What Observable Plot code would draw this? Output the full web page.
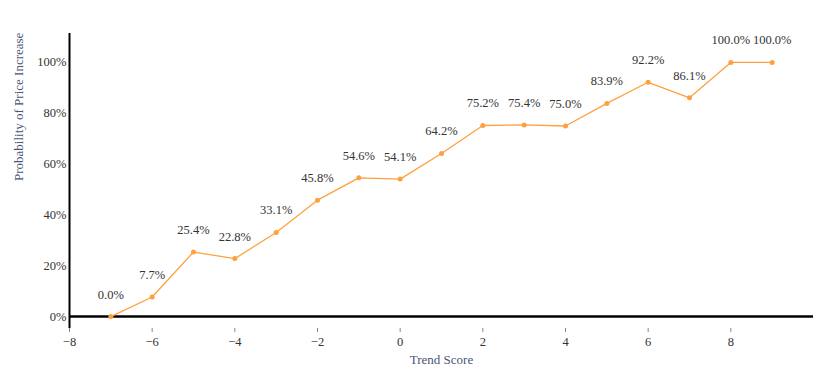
<!DOCTYPE html>
<html>
<head>
<meta charset="utf-8">
<script src="https://cdn.jsdelivr.net/npm/d3@7"></script>
<script src="https://cdn.jsdelivr.net/npm/@observablehq/plot@0.6"></script>
<style>
  html, body { margin: 0; padding: 0; background: #fff; }
  #chart svg { display: block; }
  #chart svg, #chart svg text { font-family: 'Liberation Serif', 'Times New Roman', serif !important; }
</style>
</head>
<body>
<div id="chart"></div>
<script>
const trendScores = [-7, -6, -5, -4, -3, -2, -1, 0, 1, 2, 3, 4, 5, 6, 7, 8, 9];
const probabilities = [0.0, 7.7, 25.4, 22.8, 33.1, 45.8, 54.6, 54.1, 64.2, 75.2, 75.4, 75.0, 83.9, 92.2, 86.1, 100.0, 100.0];
const xTicks = [-8, -6, -4, -2, 0, 2, 4, 6, 8];
const yTicks = [0, 0.2, 0.4, 0.6, 0.8, 1.0];

const data = trendScores.map((x, i) => ({x, p: probabilities[i] / 100}));
const lineColor = "#ffa040";
const font = "'Liberation Serif', 'Times New Roman', serif";

const chart = Plot.plot({
  width: 818,
  height: 377,
  marginLeft: 69,
  marginRight: 5,
  marginTop: 33,
  marginBottom: 49,
  style: {fontFamily: font, fontSize: "12px", color: "#333", background: "#fff"},
  x: {domain: [-8, 10], ticks: xTicks, label: null},
  y: {domain: [-0.047, 1.114], ticks: yTicks, label: null},
  marks: [
    Plot.axisX({ticks: xTicks, tickSize: 4, tickPadding: 5, stroke: "#888", fill: "#333", fontSize: 12.5, fontFamily: font, tickFormat: d => d3.format("")(d).replace("-", "\u2212")}),
    Plot.axisY({ticks: yTicks, tickSize: 0, tickPadding: 3, fill: "#333", fontSize: 12.5, fontFamily: font, tickFormat: d3.format(".0%")}),
    Plot.ruleX([-8], {y1: -0.047, y2: 1.114, stroke: "#000", strokeWidth: 2}),
    Plot.ruleY([0], {stroke: "#000", strokeWidth: 2.5}),
    Plot.line(data, {x: "x", y: "p", stroke: lineColor, strokeWidth: 1.3}),
    Plot.dot(data, {x: "x", y: "p", r: 2.5, fill: lineColor, stroke: null}),
    Plot.text(data, {x: "x", y: "p", text: d => (d.p * 100).toFixed(1) + "%", dy: -22, fill: "#333", fontSize: 12.5, fontFamily: font}),
    Plot.text(["Trend Score"], {frameAnchor: "bottom", dy: 35, fill: "#4a5578", fontSize: 13, fontFamily: font}),
    Plot.text(["Probability of Price Increase"], {frameAnchor: "left", dx: -51, rotate: -90, fill: "#4a5578", fontSize: 13, fontFamily: font})
  ]
});
document.getElementById("chart").appendChild(chart);
</script>
</body>
</html>
